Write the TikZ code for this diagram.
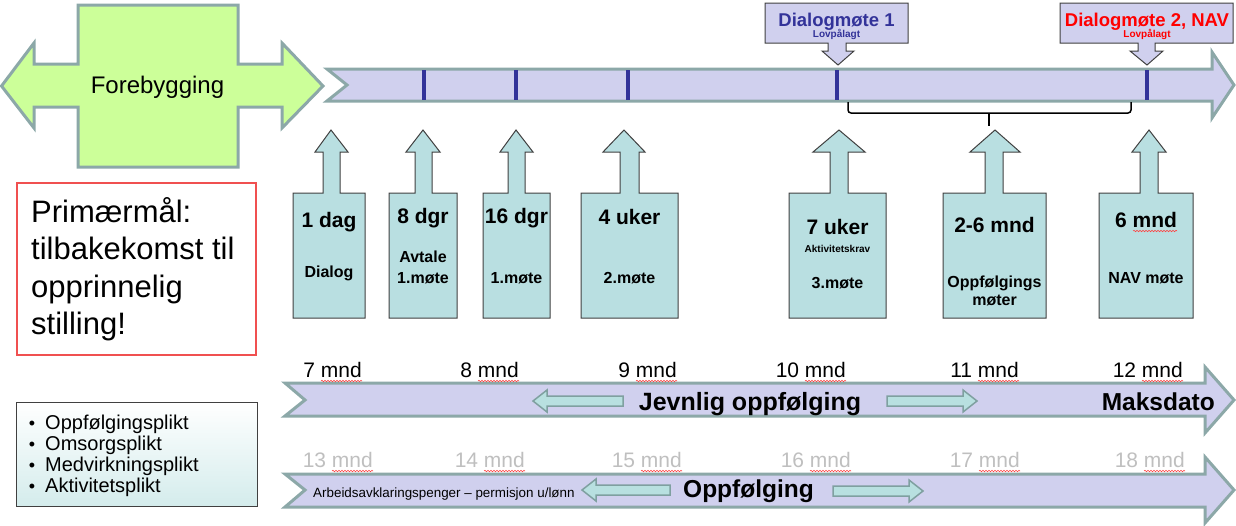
\documentclass[tikz,border=0pt]{standalone}
\usepackage{fontspec}
\setmainfont{Liberation Sans}
\usetikzlibrary{decorations.pathmorphing}
\definecolor{lav}{RGB}{208,208,238}
\definecolor{edgeteal}{RGB}{140,168,168}
\definecolor{greenfill}{RGB}{204,255,153}
\definecolor{tealbox}{RGB}{185,223,225}
\definecolor{boxedge}{RGB}{64,64,64}
\definecolor{smallfill}{RGB}{184,224,224}
\definecolor{smalledge}{RGB}{127,160,160}
\definecolor{tickblue}{RGB}{51,51,153}
\definecolor{primred}{RGB}{240,80,80}
\definecolor{graytxt}{RGB}{191,191,191}
\definecolor{bulletbot}{RGB}{212,236,236}
\newcommand\fs[1]{\fontsize{#1}{#1}\selectfont}
\newcommand\UpCall[7]{\draw[upcall] (#1,318) -- (#1,193) -- (#3,193) -- (#3,152) -- (#5,152) -- (#7,130) -- (#6,152) -- (#4,152) -- (#4,193) -- (#2,193) -- (#2,318) -- cycle;}
\begin{document}
\begin{tikzpicture}[x=1pt,y=-1pt,
  bigarrow/.style={fill=lav, draw=edgeteal, line width=3pt, line join=miter},
  upcall/.style={fill=tealbox, draw=boxedge, line width=1pt},
  downcall/.style={fill=lav, draw=boxedge, line width=1pt},
  smallarr/.style={fill=smallfill, draw=smalledge, line width=1.5pt},
  tickmark/.style={draw=tickblue, line width=4pt},
  txt/.style={inner sep=0pt, anchor=base},
  btxt/.style={txt, font=\bfseries},
  squig/.style={draw=red!75, line width=0.6pt, decorate, decoration={snake, amplitude=0.7pt, segment length=3pt}}]
\useasboundingbox (0,0) rectangle (1236,525);

% Forebygging double arrow
\draw[fill=greenfill, draw=edgeteal, line width=3pt, line join=miter]
  (78,5) -- (238,5) -- (238,64) -- (282,64) -- (282,43) -- (323,86) -- (282,128) -- (282,107)
  -- (238,107) -- (238,167) -- (78,167) -- (78,107) -- (34,107) -- (34,128) -- (1.5,86)
  -- (34,43) -- (34,64) -- (78,64) -- cycle;
\node[txt, font=\fs{24}] (fore) at (157.5,93) {Forebygging};

% top timeline
\draw[bigarrow] (327,69) -- (1212,69) -- (1212,52) -- (1234,85) -- (1212,118) -- (1212,101) -- (327,101) -- (347,85) -- cycle;
\foreach \x in {424,516,628,837,1147} \draw[tickmark] (\x,70) -- (\x,100);

% dialog callouts
\draw[downcall] (765,3) -- (908,3) -- (908,43) -- (846,43) -- (846,51) -- (854,51) -- (838,65) -- (822,51) -- (828,51) -- (828,43) -- (765,43) -- cycle;
\node[btxt, font=\fs{18.5}\bfseries, text=tickblue] (d1) at (836.5,26) {Dialogmøte 1};
\node[btxt, font=\fs{10}\bfseries, text=tickblue] (d1s) at (836.5,37.5) {Lovpålagt};
\draw[downcall] (1060,3) -- (1233,3) -- (1233,43) -- (1155,43) -- (1155,51) -- (1163,51) -- (1147,65) -- (1130,51) -- (1138,51) -- (1138,43) -- (1060,43) -- cycle;
\node[btxt, font=\fs{18.5}\bfseries, text=red] (d2) at (1147,26) {Dialogmøte 2, NAV};
\node[btxt, font=\fs{10}\bfseries, text=red] (d2s) at (1147,37.5) {Lovpålagt};

% brace
\draw[line width=1.5pt, rounded corners=3pt] (848,102) -- (848,113) -- (1131,113) -- (1131,102);
\draw[line width=1.5pt] (989,113) -- (989,126);

% up callouts
\UpCall{293}{365}{323}{340}{315}{348}{331}
\UpCall{389}{457}{415}{432}{406}{440}{423}
\UpCall{483}{550}{508}{525}{500}{533}{516}
\UpCall{581}{678}{620}{639}{603}{645}{624}
\UpCall{789}{886}{830}{848}{813}{865}{839}
\UpCall{943}{1046}{985}{1003}{970}{1020}{995}
\UpCall{1099}{1193}{1140}{1158}{1132}{1166}{1149}

\node[btxt, font=\fs{21}\bfseries] (b1a) at (329,227) {1 dag};
\node[btxt, font=\fs{16}\bfseries] (b1b) at (329,277) {Dialog};
\node[btxt, font=\fs{21}\bfseries] (b2a) at (423,223) {8 dgr};
\node[btxt, font=\fs{16}\bfseries] (b2b) at (423,262) {Avtale};
\node[btxt, font=\fs{16}\bfseries] (b2c) at (423,283) {1.møte};
\node[btxt, font=\fs{21}\bfseries] (b3a) at (516.5,223) {16 dgr};
\node[btxt, font=\fs{16}\bfseries] (b3b) at (516.5,283) {1.møte};
\node[btxt, font=\fs{21}\bfseries] (b4a) at (629.5,224) {4 uker};
\node[btxt, font=\fs{16}\bfseries] (b4b) at (629.5,283) {2.møte};
\node[btxt, font=\fs{21}\bfseries] (b5a) at (837.5,234) {7 uker};
\node[btxt, font=\fs{10}\bfseries] (b5b) at (837.5,252) {Aktivitetskrav};
\node[btxt, font=\fs{16}\bfseries] (b5c) at (837.5,288) {3.møte};
\node[btxt, font=\fs{21}\bfseries] (b6a) at (994.5,232) {2-6 mnd};
\node[btxt, font=\fs{16}\bfseries] (b6b) at (994.5,287) {Oppfølgings};
\node[btxt, font=\fs{16}\bfseries] (b6c) at (994.5,305) {møter};
\node[btxt, font=\fs{21}\bfseries] (b7a) at (1146,227) {6 mnd};
\node[btxt, font=\fs{16}\bfseries] (b7b) at (1146,283) {NAV møte};
\draw[squig] ([xshift=-44pt,yshift=-4pt]b7a.base east) -- ([yshift=-4pt]b7a.base east);

% Primaermaal box
\draw[draw=primred, line width=1.2pt] (17,183) rectangle (256,355);
\node[txt, anchor=base west, font=\fs{31}] (p1) at (31,222) {Primærmål:};
\node[txt, anchor=base west, font=\fs{31}] (p2) at (31,259.5) {tilbakekomst til};
\node[txt, anchor=base west, font=\fs{31}] (p3) at (31,297) {opprinnelig};
\node[txt, anchor=base west, font=\fs{31}] (p4) at (31,334.5) {stilling!};

% bullet box
\draw[draw=boxedge, line width=1pt, top color=white, bottom color=bulletbot] (16,402) rectangle (257,506);
\foreach \y/\t [count=\i] in {429/Oppfølgingsplikt,450/Omsorgsplikt,471/Medvirkningsplikt,492/Aktivitetsplikt}{
  \node[txt, font=\fs{18}] (bul\i) at (32,\y) {•};
  \node[txt, anchor=base west, font=\fs{20}] (bt\i) at (45,\y) {\t};
}

% lower arrows
\draw[bigarrow] (285,383) -- (1205,383) -- (1205,367) -- (1234,400) -- (1205,433) -- (1205,416) -- (285,416) -- (305,400) -- cycle;
\draw[bigarrow] (285,474) -- (1205,474) -- (1205,457) -- (1234,490) -- (1205,523) -- (1205,507) -- (285,507) -- (305,490) -- cycle;

\draw[smallarr] (623,396) -- (547,396) -- (547,390) -- (533,401) -- (547,412) -- (547,406) -- (623,406) -- cycle;
\draw[smallarr] (887,396) -- (963,396) -- (963,390) -- (977,401) -- (963,412) -- (963,406) -- (887,406) -- cycle;
\draw[smallarr] (670,485) -- (596,485) -- (596,479) -- (582,490) -- (596,501) -- (596,495) -- (670,495) -- cycle;
\draw[smallarr] (833,486) -- (909,486) -- (909,480) -- (923,491) -- (909,502) -- (909,496) -- (833,496) -- cycle;

\node[btxt, font=\fs{25}\bfseries] (jev) at (750,410) {Jevnlig oppfølging};
\node[btxt, anchor=base east, font=\fs{24.5}\bfseries] (maks) at (1215,410) {Maksdato};
\node[btxt, font=\fs{24.5}\bfseries] (opp) at (748.5,497) {Oppfølging};
\node[txt, anchor=base west, font=\fs{13.4}] (aap) at (313,497) {Arbeidsavklaringspenger – permisjon u/lønn};

% month labels
\foreach \x/\m in {362/7,519/8,677/9,846/10,1019/11,1183/12}{
  \node[txt, anchor=base east, font=\fs{21}] (m\m) at (\x,377) {\m\ mnd};
  \draw[squig] ([xshift=-41pt,yshift=-4pt]m\m.base east) -- ([yshift=-4pt]m\m.base east);
}
\foreach \x/\m in {373/13,525/14,682/15,851/16,1020/17,1185/18}{
  \node[txt, anchor=base east, font=\fs{21}, text=graytxt] (m\m) at (\x,467) {\m\ mnd};
  \draw[squig] ([xshift=-41pt,yshift=-4pt]m\m.base east) -- ([yshift=-4pt]m\m.base east);
}
\end{tikzpicture}
\end{document}
